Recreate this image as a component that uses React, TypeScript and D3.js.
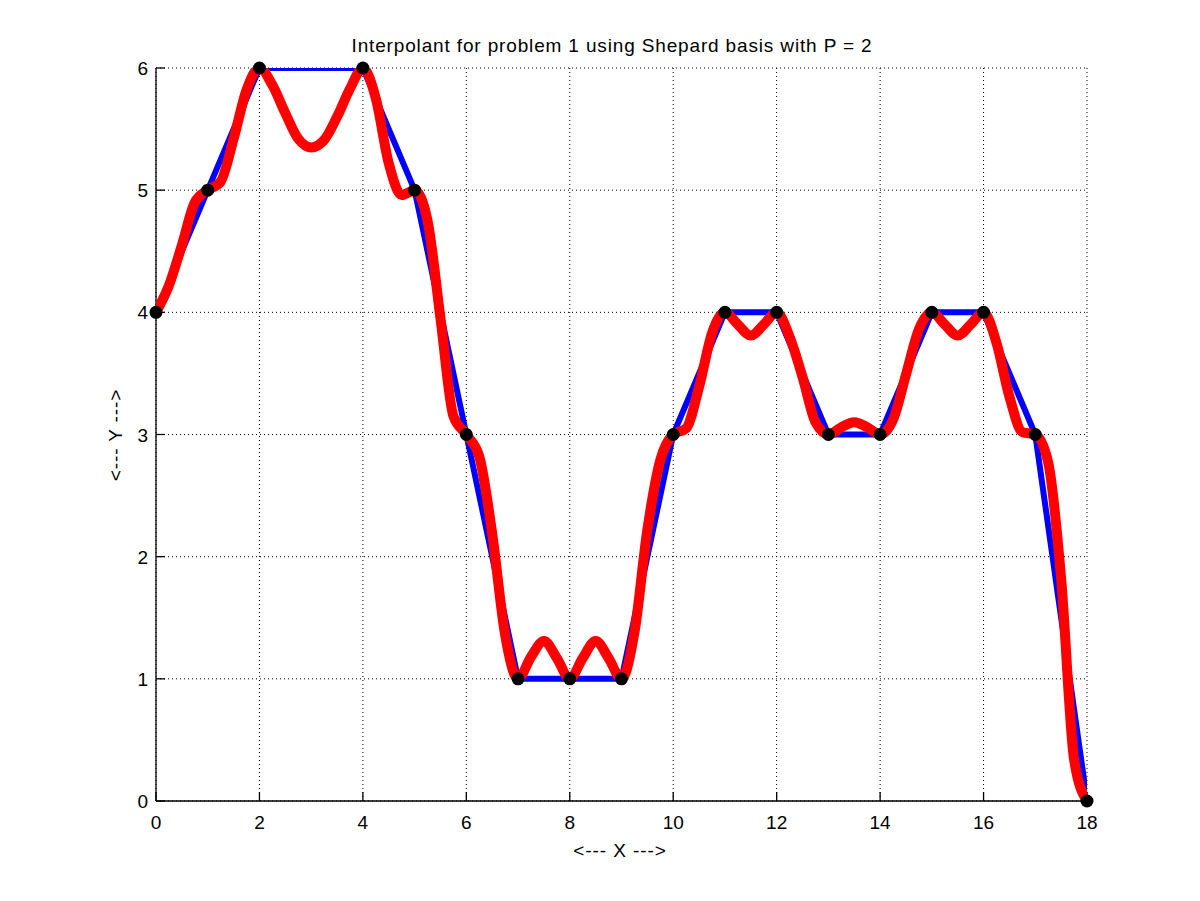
import React from 'react';
import * as d3 from 'd3';

// data points (black markers, blue polyline)
const dataX = [0, 1, 2, 4, 5, 6, 7, 8, 9, 10, 11, 12, 13, 14, 15, 16, 17, 18];
const dataY = [4, 5, 6, 6, 5, 3, 1, 1, 1, 3, 4, 4, 3, 3, 4, 4, 3, 0];

// red interpolant at quarter steps
const curvePts: [number, number][] = [
  [0, 4.0], [0.25, 4.22], [0.5, 4.55], [0.75, 4.9], [1, 5.0], [1.25, 5.07], [1.5, 5.42], [1.75, 5.82],
  [2, 6.0], [2.25, 5.86], [2.5, 5.63], [2.75, 5.42], [3, 5.35], [3.25, 5.41], [3.5, 5.6], [3.75, 5.83],
  [4, 6.0], [4.25, 5.75], [4.5, 5.22], [4.75, 4.96], [5, 5.0], [5.25, 4.75], [5.5, 3.95], [5.75, 3.15],
  [6, 3.0], [6.25, 2.82], [6.5, 2.19], [6.75, 1.36], [7, 1.0], [7.25, 1.18], [7.5, 1.31], [7.75, 1.17],
  [8, 1.0], [8.25, 1.17], [8.5, 1.31], [8.75, 1.17], [9, 1.0], [9.25, 1.38], [9.5, 2.22], [9.75, 2.79],
  [10, 3.0], [10.25, 3.05], [10.5, 3.39], [10.75, 3.83], [11, 4.0], [11.25, 3.9], [11.5, 3.81], [11.75, 3.9],
  [12, 4.0], [12.25, 3.8], [12.5, 3.47], [12.75, 3.1], [13, 3.0], [13.25, 3.06], [13.5, 3.1], [13.75, 3.06],
  [14, 3.0], [14.25, 3.12], [14.5, 3.49], [14.75, 3.86], [15, 4.0], [15.25, 3.9], [15.5, 3.81], [15.75, 3.9],
  [16, 4.0], [16.25, 3.75], [16.5, 3.31], [16.75, 3.02], [17, 3.0], [17.25, 2.77], [17.5, 1.82], [17.75, 0.34],
  [18, 0.0],
];

const xTicks = [0, 2, 4, 6, 8, 10, 12, 14, 16, 18];
const yTicks = [0, 1, 2, 3, 4, 5, 6];

const title = 'Interpolant for problem 1 using Shepard basis with P = 2';
const xLabel = '<--- X --->';
const yLabel = '<--- Y --->';

const App = () => {
  const width = 1200, height = 901;
  const left = 156, right = 1087, top = 68, bottom = 801;
  const font = '"Liberation Sans", Arial, Helvetica, sans-serif';

  const x = d3.scaleLinear().domain([0, 18]).range([left, right]);
  const y = d3.scaleLinear().domain([0, 6]).range([bottom, top]);

  const polyline = d3.line<number>().x((d, i) => x(dataX[i])).y(d => y(d));
  const smooth = d3.line<[number, number]>().x(d => x(d[0])).y(d => y(d[1])).curve(d3.curveMonotoneX);

  return (
    <div style={{ position: 'absolute', left: 0, top: 0 }}>
      <svg width={width} height={height} style={{ display: 'block', background: '#fff' }}>
        <defs>
          <clipPath id="plotArea">
            <rect x={left} y={top} width={right - left} height={bottom - top} />
          </clipPath>
        </defs>

        {/* grid */}
        {xTicks.map(t => (
          <line key={'gx' + t} x1={x(t)} x2={x(t)} y1={top} y2={bottom} stroke="#000" strokeWidth={1} strokeDasharray="1,3" />
        ))}
        {yTicks.map(t => (
          <line key={'gy' + t} x1={left} x2={right} y1={y(t)} y2={y(t)} stroke="#000" strokeWidth={1} strokeDasharray="1,3" />
        ))}

        {/* axes */}
        <line x1={left} x2={right + 0.5} y1={bottom} y2={bottom} stroke="#000" strokeWidth={1.3} />
        <line x1={left} x2={left} y1={top} y2={bottom} stroke="#000" strokeWidth={1.3} />
        {xTicks.map(t => (
          <g key={'tx' + t}>
            <line x1={x(t)} x2={x(t)} y1={bottom} y2={bottom - 9} stroke="#000" strokeWidth={1.3} />
            <text x={x(t)} y={829} textAnchor="middle" fontFamily={font} fontSize={19}>{t}</text>
          </g>
        ))}
        {yTicks.map(t => (
          <g key={'ty' + t}>
            <line x1={left} x2={left + 9} y1={y(t)} y2={y(t)} stroke="#000" strokeWidth={1.3} />
            <text x={148} y={y(t) + 7} textAnchor="end" fontFamily={font} fontSize={19}>{t}</text>
          </g>
        ))}

        {/* series */}
        <g clipPath="url(#plotArea)">
          <path d={polyline(dataY) || ''} fill="none" stroke="#0000ff" strokeWidth={6} strokeLinejoin="round" />
          <path d={smooth(curvePts) || ''} fill="none" stroke="#ff0000" strokeWidth={10} strokeLinejoin="round" strokeLinecap="round" />
        </g>
        {dataY.map((v, i) => (
          <circle key={'m' + i} cx={x(dataX[i])} cy={y(v)} r={6.5} fill="#000" />
        ))}

        {/* labels */}
        <text x={612} y={52} textAnchor="middle" fontFamily={font} fontSize={19} letterSpacing={0.85}>{title}</text>
        <text x={620} y={857} textAnchor="middle" fontFamily={font} fontSize={19} letterSpacing={0.9}>{xLabel}</text>
        <text transform={`translate(122, 435) rotate(-90)`} textAnchor="middle" fontFamily={font} fontSize={19} letterSpacing={0.9}>{yLabel}</text>
      </svg>
    </div>
  );
};

export default App;
